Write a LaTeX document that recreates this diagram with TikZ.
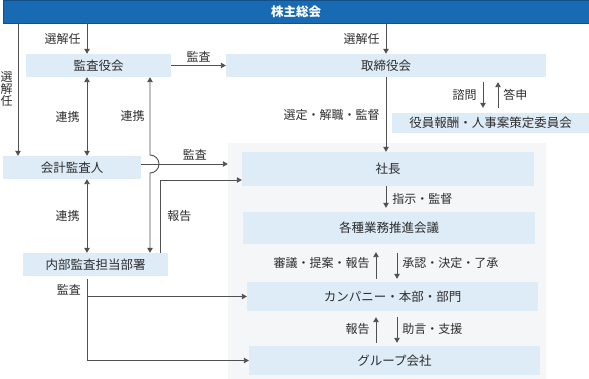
\documentclass[tikz,border=0pt]{standalone}
\usepackage{fontspec}
\setmainfont{Noto Sans CJK JP}
\usetikzlibrary{arrows.meta, positioning}

\definecolor{barblue}{RGB}{24,106,178}
\definecolor{boxblue}{RGB}{222,236,247}
\definecolor{panelgray}{RGB}{244,246,247}
\definecolor{linegray}{RGB}{80,80,80}
\definecolor{txtgray}{RGB}{45,45,45}

\tikzset{
  box/.style={fill=boxblue, inner sep=0pt, text=txtgray, font=\fontsize{12.5}{14}\selectfont},
  lbl/.style={inner sep=0pt, text=txtgray, font=\fontsize{12}{14}\selectfont},
  arr/.style={draw=linegray, line width=0.9pt, -{Triangle[length=5pt,width=5.5pt]}},
  darr/.style={draw=linegray, line width=0.9pt, {Triangle[length=5pt,width=5.5pt]}-{Triangle[length=5pt,width=5.5pt]}},
}

\begin{document}
\begin{tikzpicture}[x=1pt,y=-1pt]
\useasboundingbox (0,0) rectangle (589,379);

% panel behind the executive side
\node[fill=panelgray, inner sep=0pt, minimum width=318pt, minimum height=236pt] (panel) at (387,261) {};

% boxes
\node[box, fill=barblue, draw=barblue!75!black, line width=0.6pt, text=white, font=\fontsize{12.5}{14}\selectfont\bfseries,
      minimum width=586pt, minimum height=23pt] (gm) at (296,11.5) {株主総会};
\node[box, minimum width=145pt, minimum height=23pt] (kansa) at (98.5,65.5) {監査役会};
\node[box, minimum width=320pt, minimum height=23pt] (tori) at (386,65.5) {取締役会};
\node[box, minimum width=197pt, minimum height=20pt] (iin) at (490.5,123) {役員報酬・人事案策定委員会};
\node[box, minimum width=138pt, minimum height=23pt] (kaikei) at (72,167.5) {会計監査人};
\node[box, minimum width=292pt, minimum height=34pt] (shacho) at (388,169) {社長};
\node[box, minimum width=292pt, minimum height=32pt] (kaigi) at (389,228) {各種業務推進会議};
\node[box, minimum width=145pt, minimum height=23pt] (naibu) at (95.5,264.5) {内部監査担当部署};
\node[box, minimum width=291pt, minimum height=29pt] (company) at (392.5,296.5) {カンパニー・本部・部門};
\node[box, minimum width=291pt, minimum height=29pt] (group) at (394.5,360.5) {グループ会社};

% columns of the connectors
\coordinate (xA) at (18,0);
\coordinate (xB) at (87,0);
\coordinate (xC) at (150,0);
\coordinate (xD) at (160,0);
\coordinate (xE) at (386,0);
\coordinate (xU) at (376,0);
\coordinate (xW) at (397,0);

% 選解任
\draw[arr] (gm.south -| xA) -- (kaikei.north -| xA)
  node[lbl, midway, left=5pt, align=center, font=\fontsize{12}{12}\selectfont] {選\\解\\任};
\draw[arr] (gm.south -| xB) -- (kansa.north -| xB) node[lbl, midway, left=6pt] {選解任};
\draw[arr] (gm.south -| xE) -- (tori.north -| xE) node[lbl, midway, left=6pt] {選解任};

% audit board
\draw[arr] (kansa.east) -- (tori.west) node[lbl, midway, above=3pt] {監査};
\draw[darr] (kansa.south -| xB) -- (kaikei.north -| xB) node[lbl, midway, left=7pt] {連携};
\draw[darr] (kaikei.south -| xB) -- (naibu.north -| xB) node[lbl, midway, left=7pt] {連携};

% accounting auditor -> executive side
\coordinate (kk) at ([yshift=3.5pt]kaikei.east);
\coordinate (hopc) at (xC |- kk);
\draw[arr] (kk) -- (kk -| panel.west) node[lbl, pos=0.62, above=3pt] {監査};

% internal audit <-> audit board, hopping over
\draw[darr] (naibu.north -| xC) -- ([yshift=-9pt]hopc)
  arc[start angle=-90, end angle=90, radius=9pt]
  -- (kansa.south -| xC) node[lbl, midway, left=5pt] {連携};
\draw[arr] (naibu.north -| xD) |- ([yshift=-11pt]shacho.west) node[lbl, pos=0.25, right=7pt] {報告};

% internal audit -> divisions
\draw[arr] ([yshift=-3pt]naibu.south -| xB) |- (group.west);
\draw[arr] (company.west -| xB) -- (company.west);
\node[lbl, below left=8pt and 6pt of naibu.south -| xB] (kansalbl) {監査};

% board side
\draw[arr] (tori.south -| xE) -- (shacho.north -| xE) node[lbl, midway, left=6pt] {選定・解職・監督};
\draw[arr, shorten <=5pt, shorten >=5pt] ([xshift=-7.5pt]iin.north |- tori.south) -- ([xshift=-7.5pt]iin.north)
  node[lbl, midway, left=6pt] {諮問};
\draw[arr, shorten <=5pt, shorten >=5pt] ([xshift=7.5pt]iin.north) -- ([xshift=7.5pt]iin.north |- tori.south)
  node[lbl, midway, right=5pt] {答申};

% executive chain
\draw[arr, shorten >=4pt] (shacho.south -| xE) -- (kaigi.north -| xE) node[lbl, midway, right=6pt] {指示・監督};
\draw[arr, shorten <=3pt, shorten >=8pt] (company.north -| xU) -- (kaigi.south -| xU)
  node[lbl, midway, left=6pt] {審議・提案・報告};
\draw[arr, shorten <=9pt, shorten >=3pt] (kaigi.south -| xW) -- (company.north -| xW)
  node[lbl, midway, right=5pt] {承認・決定・了承};
\draw[arr, shorten <=3pt, shorten >=6pt] (group.north -| xU) -- (company.south -| xU)
  node[lbl, midway, left=6pt] {報告};
\draw[arr, shorten <=6pt, shorten >=3pt] (company.south -| xW) -- (group.north -| xW)
  node[lbl, midway, right=5pt] {助言・支援};

\end{tikzpicture}
\end{document}
